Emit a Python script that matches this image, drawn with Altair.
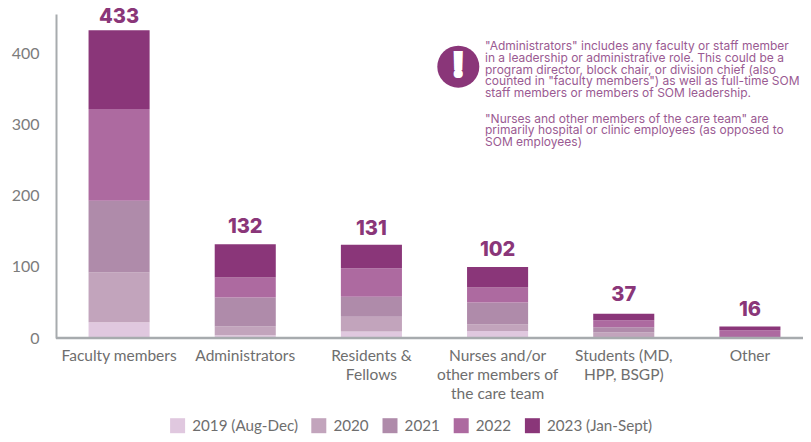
import altair as alt
import pandas as pd

categories = ["Faculty members", "Administrators", "Residents &\nFellows",
              "Nurses and/or\nother members of\nthe care team", "Students (MD,\nHPP, BSGP)", "Other"]
years = ["2019 (Aug-Dec)", "2020", "2021", "2022", "2023 (Jan-Sept)"]
colors = ["#E0C8DF", "#C2A4BC", "#AF8BAA", "#AD6AA0", "#8A3679"]
v2019 = [22, 4, 9, 10, 0, 0]
v2020 = [70, 12, 21, 9, 8, 0]
v2021 = [101, 41, 28, 31, 7, 1]
v2022 = [129, 28, 40, 21, 10, 10]
v2023 = [111, 47, 33, 29, 9, 5]
totals = [433, 132, 131, 102, 37, 16]
tops = [428, 132, 130, 100, 37, 16]
note_a = ('"Administrators" includes any faculty or staff member\n'
          'in a leadership or administrative role. This could be a\n'
          'program director, block chair, or division chief (also\n'
          'counted in "faculty members") as well as full-time SOM\n'
          'staff members or members of SOM leadership.')
note_b = ('"Nurses and other members of the care team" are\n'
          'primarily hospital or clinic employees (as opposed to\n'
          'SOM employees)')

rows = []
for yi, (yr, vals) in enumerate(zip(years, [v2019, v2020, v2021, v2022, v2023])):
    for c, v in zip(categories, vals):
        rows.append({"cat": c, "year": yr, "idx": yi, "v": v})
df = pd.DataFrame(rows)
df_tot = pd.DataFrame({"cat": categories, "total": totals, "top": tops})

xscale = alt.Scale(domain=categories, range=[0, 757], paddingInner=0.516, paddingOuter=0.258)
yscale = alt.Scale(domain=[0, 455.7], nice=False)

bars = alt.Chart(df).mark_bar(stroke=None).encode(
    x=alt.X("cat:N", scale=xscale, sort=categories, title=None,
            axis=alt.Axis(labelAngle=0, labelExpr="split(datum.label,'\\n')", labelLimit=0,
                          labelFont="Lato", labelFontSize=15.5, labelColor="#6E6E6E",
                          labelLineHeight=19, labelPadding=10, labelBaseline="top",
                          ticks=False, domain=False, grid=False)),
    y=alt.Y("v:Q", stack="zero", scale=yscale, title=None,
            axis=alt.Axis(values=[0, 100, 200, 300, 400], ticks=False, grid=False,
                          labelFont="Lato", labelFontSize=16, labelColor="#7C7C7C", labelPadding=17,
                          domainColor="#A7ABAE", domainWidth=2)),
    color=alt.Color("year:N", sort=years, scale=alt.Scale(domain=years, range=colors),
                    legend=alt.Legend(title=None, orient="none", direction="horizontal", columns=5,
                                      legendX=114, legendY=404, symbolType="square", symbolSize=225,
                                      symbolStrokeWidth=0, labelFont="Lato", labelFontSize=15.2,
                                      labelColor="#6E6E6E", labelOffset=7, columnPadding=13.2,
                                      labelLimit=0, padding=0)),
    order=alt.Order("idx:Q", sort="ascending"),
)

baseline = alt.Chart(pd.DataFrame({"a": [0]})).mark_rule(color="#A7ABAE", strokeWidth=2.5).encode(
    x=alt.value(0), x2=alt.value(747), y=alt.value(324))

labels = alt.Chart(df_tot).mark_text(font="Inter", fontSize=20, fontWeight=800, color="#8A3679",
                                     baseline="middle", dy=-17).encode(
    x=alt.X("cat:N", scale=xscale, sort=categories),
    y=alt.Y("top:Q", scale=yscale),
    text="total:N",
)

note_df = pd.DataFrame({"a": [note_a], "b": [note_b], "mark": ["!"]})
circle = alt.Chart(note_df).mark_point(filled=True, size=1764, opacity=1, color="#8A3679", shape="circle").encode(
    x=alt.value(402.3), y=alt.value(52.7))
bang = alt.Chart(note_df).mark_text(font="Inter", fontSize=34, fontWeight=900, color="white", stroke="white",
                                    strokeWidth=2, baseline="middle", align="center").encode(
    x=alt.value(402.3), y=alt.value(52.7), text="mark:N")
text_a = alt.Chart(note_df).mark_text(font="Inter", fontSize=12, color="#9A5A92", align="left",
                                      baseline="top", lineBreak="\n", lineHeight=11.8).encode(
    x=alt.value(429), y=alt.value(27), text="a:N")
text_b = alt.Chart(note_df).mark_text(font="Inter", fontSize=12, color="#9A5A92", align="left",
                                      baseline="top", lineBreak="\n", lineHeight=11.8).encode(
    x=alt.value(429), y=alt.value(99.5), text="b:N")

chart = alt.layer(bars, baseline, labels, circle, bang, text_a, text_b).properties(
    width=747, height=324,
    padding={"left": 48, "right": 0, "top": 6, "bottom": 96},
    autosize=alt.AutoSizeParams(type="none"),
    background="white",
).configure_view(stroke=None)

chart.save("out.html", embed_options={"renderer": "svg", "actions": False})
